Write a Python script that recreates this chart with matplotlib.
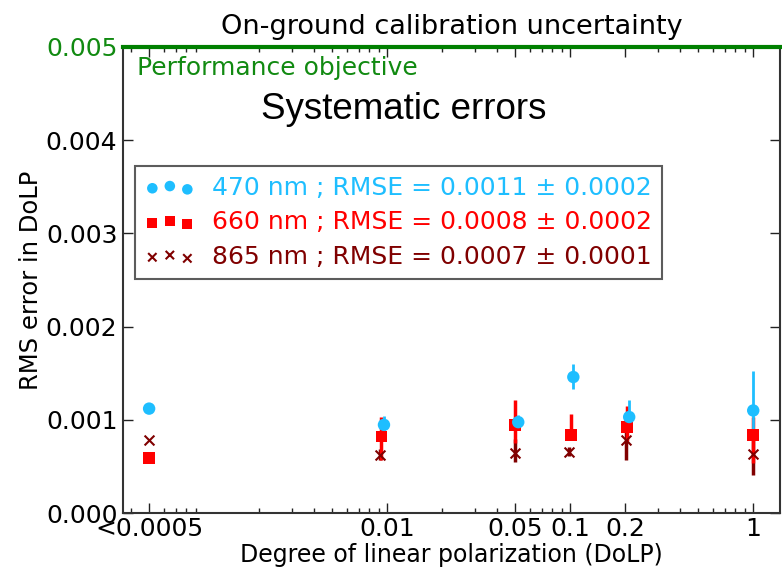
import matplotlib
matplotlib.use('Agg')
import matplotlib.pyplot as plt
from matplotlib.ticker import FixedLocator, FixedFormatter, LogLocator, NullFormatter

# DoLP of each measurement point (slightly different per wavelength)
dolp_470 = [0.0005, 0.0096, 0.052, 0.104, 0.21, 1.0]
dolp_660 = [0.0005, 0.0093, 0.050, 0.101, 0.204, 1.0]
dolp_865 = [0.0005, 0.0091, 0.050, 0.099, 0.202, 1.0]

# RMS error in DoLP
rms_470 = [0.00112, 0.000946, 0.000975, 0.001459, 0.00103, 0.0011]
rms_660 = [0.000587, 0.00082, 0.000946, 0.000834, 0.000926, 0.000834]
rms_865 = [0.000783, 0.000622, 0.000647, 0.000658, 0.000783, 0.00063]

# error bars (lower, upper)
err_470 = [[0, 0.0001, 0.00006, 0.00013, 0.00014, 0.0003],
           [0, 0.0001, 0.00008, 0.00014, 0.00018, 0.00042]]
err_660 = [[0, 0.00025, 0.0002, 0.00005, 0.00015, 0.0003],
           [0, 0.00021, 0.00027, 0.00023, 0.00022, 0.0002]]
err_865 = [[0, 0.000055, 0.0001, 0.00005, 0.00021, 0.00022],
           [0, 0.00007, 0.00015, 0.00005, 0.00021, 0.00022]]

labels = ['470 nm ; RMSE = 0.0011 ± 0.0002',
          '660 nm ; RMSE = 0.0008 ± 0.0002',
          '865 nm ; RMSE = 0.0007 ± 0.0001']

xtick_vals = [0.0005, 0.01, 0.05, 0.1, 0.2, 1]
xtick_labels = ['<0.0005', '0.01', '0.05', '0.1', '0.2', '1']
ytick_vals = [0.0, 0.001, 0.002, 0.003, 0.004, 0.005]

objective = 0.005

c470 = '#1ebeff'
c660 = '#ff0000'
c865 = '#800000'
cgreen = '#118a11'

fig = plt.figure(figsize=(7.82, 5.73), dpi=100)
ax = fig.add_axes([0.1573, 0.1047, 0.8401, 0.8133])

ax.set_xscale('log')
ax.set_xlim(0.00036, 1.4)
ax.set_ylim(0, 0.005)

# error bars first, markers on top
ax.errorbar(dolp_865, rms_865, yerr=err_865, fmt='none', ecolor=c865, elinewidth=2.5, capsize=0)
ax.errorbar(dolp_660, rms_660, yerr=err_660, fmt='none', ecolor=c660, elinewidth=2.5, capsize=0)
ax.errorbar(dolp_470, rms_470, yerr=err_470, fmt='none', ecolor=c470, elinewidth=2.0, capsize=0)

ax.scatter(dolp_470, rms_470, s=80, marker='o', color=c470, edgecolors='none', label=labels[0], zorder=5)
ax.scatter(dolp_660, rms_660, s=70, marker='s', color=c660, edgecolors='none', label=labels[1], zorder=4)
ax.scatter(dolp_865, rms_865, s=50, marker='x', color=c865, linewidths=1.5, label=labels[2], zorder=4)

# performance objective line
ax.axhline(objective, color='green', lw=3, zorder=6, clip_on=False)
ax.text(0.021, 0.955, 'Performance objective', transform=ax.transAxes,
        color=cgreen, fontsize=18, ha='left', va='center')
ax.text(0.428, 0.865, 'Systematic errors', transform=ax.transAxes,
        fontsize=26.5, family='Liberation Sans', ha='center', va='center')

ax.set_title('On-ground calibration uncertainty', fontsize=19.5, pad=9)
ax.set_xlabel('Degree of linear polarization (DoLP)', fontsize=17, labelpad=1)
ax.set_ylabel('RMS error in DoLP', fontsize=17.5, labelpad=2)

ax.xaxis.set_major_locator(FixedLocator(xtick_vals))
ax.xaxis.set_major_formatter(FixedFormatter(xtick_labels))
ax.xaxis.set_minor_locator(LogLocator(base=10, subs=range(2, 10), numticks=20))
ax.xaxis.set_minor_formatter(NullFormatter())
ax.set_yticks(ytick_vals)
ax.set_yticklabels(['%.3f' % v for v in ytick_vals])

ax.tick_params(which='both', direction='in', top=True, right=True, labelsize=18, colors='#222222')
ax.tick_params(axis='both', labelcolor='black')
ax.get_yticklabels()[-1].set_color(cgreen)
ax.tick_params(which='major', length=7, width=1)
ax.tick_params(which='minor', length=3.5, width=1)
ax.tick_params(axis='x', pad=3)
ax.tick_params(axis='y', pad=4)
for sp in ax.spines.values():
    sp.set_color('#333333')
    sp.set_linewidth(1.5)

leg = ax.legend(loc='upper left', bbox_to_anchor=(0.018, 0.745), borderaxespad=0,
                scatterpoints=3, fontsize=18, fancybox=False, markerscale=0.85,
                handletextpad=0.7, labelspacing=0.42, borderpad=0.4)
leg.get_frame().set_edgecolor('#333333')
leg.get_frame().set_linewidth(1.5)
for txt, col in zip(leg.get_texts(), [c470, c660, c865]):
    txt.set_color(col)

fig.savefig('out.png', dpi=100)
